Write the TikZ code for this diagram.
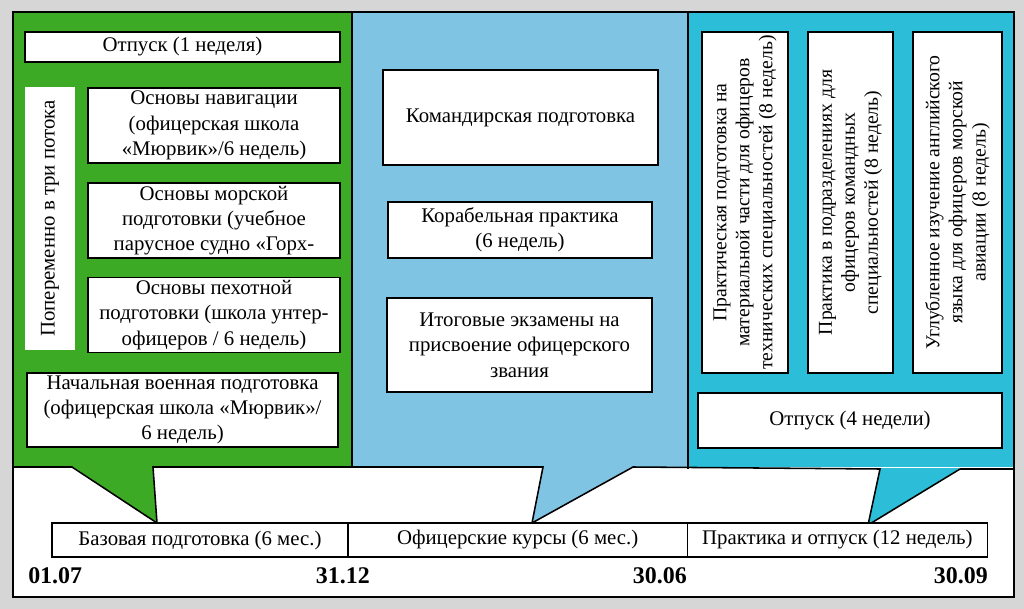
\documentclass[tikz,border=0pt]{standalone}
\usepackage{fontspec}
\setmainfont{Liberation Serif}
\usepackage{tikz}
\usetikzlibrary{positioning}
\definecolor{mygreen}{RGB}{60,170,36}
\definecolor{myblue}{RGB}{128,196,228}
\definecolor{mycyan}{RGB}{44,190,216}
\definecolor{mygray}{RGB}{214,214,214}
\newcommand{\boxfont}{\fontsize{14.8}{18}\selectfont}
\newcommand{\sidefont}{\fontsize{14}{16.4}\selectfont}
\newcommand{\datefont}{\fontsize{17}{20}\selectfont\bfseries}
\tikzset{
  box/.style={rectangle, draw=black, fill=white, line width=1.1pt,
    align=center, inner sep=2pt, font=\boxfont},
  sidebox/.style={box, rotate=90, font=\sidefont,
    minimum width=8.53cm},
  flowbox/.style={rectangle, fill=white, rotate=90, align=center,
    font=\boxfont, minimum width=6.58cm, minimum height=1.25cm},
  tbox/.style={box, minimum height=0.85cm, inner sep=1pt},
  datelbl/.style={font=\datefont, inner sep=0pt},
  edge/.style={line width=1.1pt, line join=miter}
}

\begin{document}
\begin{tikzpicture}[x=0.025cm, y=-0.025cm]
  \useasboundingbox (0,0) rectangle (1024,609);
  \fill[mygray] (0,0) rectangle (1024,609);

  % Panels
  \fill[mygreen] (13,12) rectangle (352,468);
  \fill[myblue]  (352,12) rectangle (688,468);
  \fill[mycyan]  (688,12) rectangle (1014,470);

  % Wedges
  \coordinate (tipa) at (157,523);
  \coordinate (tipb) at (532,523);
  \coordinate (tipc) at (868,525);
  \fill[white] (13,467) rectangle (1014,597);
  \fill[mygreen] (72,466) -- (tipa) -- (153,466) -- cycle;
  \fill[myblue]  (543,466) -- (tipb) -- (633,466) -- cycle;
  \fill[mycyan]  (880,468) -- (tipc) -- (960,468) -- cycle;
  \draw[edge] (13,467) -- (72,467) -- (tipa) -- (153,467) -- (543,467)
    -- (tipb) -- (633,467) -- (880,469) -- (tipc) -- (960,469)
    -- (1014,469);
  \draw[edge] (352,12) -- (352,467);
  \draw[edge] (688,12) -- (688,469);
  \draw[line width=1.6pt] (13,12) rectangle (1014,597);

  % Basic training
  \node[box, minimum width=7.88cm, minimum height=0.75cm] (otp1) at (182.5,47) {Отпуск (1 неделя)};
  \node[flowbox] (flow) at (50,218.5) {Попеременно в три потока};
  \node[box, minimum width=6.3cm, minimum height=1.88cm] (nav) at (214,125.5)
    {Основы навигации\\(офицерская школа\\«Мюрвик»/6 недель)};
  \node[box, minimum width=6.3cm, minimum height=1.88cm] (sea) at (214,220.5)
    {Основы морской\\подготовки (учебное\\парусное судно «Горх-};
  \node[box, minimum width=6.3cm, minimum height=1.88cm] (inf) at (214,315)
    {Основы пехотной\\подготовки (школа унтер-\\офицеров / 6 недель)};
  \node[box, minimum width=7.78cm, minimum height=1.85cm] (basic) at (182.5,410)
    {Начальная военная подготовка\\(офицерская школа «Мюрвик»/\\6 недель)};

  % Officer courses
  \node[box, minimum width=6.88cm, minimum height=2.38cm] (cmd) at (520.5,117.5)
    {Командирская подготовка};
  \node[box, minimum width=6.6cm, minimum height=1.4cm] (ship) at (520,230)
    {Корабельная практика\\(6 недель)};
  \node[box, minimum width=6.63cm, minimum height=2.35cm] (exam) at (519.5,345)
    {Итоговые экзамены на\\присвоение офицерского\\звания};

  % Practice and leave
  \node[sidebox, minimum height=2.15cm] (tech) at (745,202.5)
    {Практическая подготовка на\\материальной части для офицеров\\технических специальностей (8 недель)};
  \node[sidebox, minimum height=2.13cm] (unit) at (850.5,202.5)
    {Практика в подразделениях для\\офицеров командных\\специальностей (8 недель)};
  \node[sidebox, minimum height=2.23cm] (lang) at (957.5,202.5)
    {Углубленное изучение английского\\языка для офицеров морской\\авиации (8 недель)};
  \node[box, minimum width=7.6cm, minimum height=1.38cm] (otp4) at (850,420.5)
    {Отпуск (4 недели)};

  % Timeline
  \node[tbox, minimum width=7.4cm] (t1) at (200,540) {Базовая подготовка (6 мес.)};
  \node[tbox, minimum width=8.48cm, right=-1.1pt of t1] (t2) {Офицерские курсы (6 мес.)};
  \node[tbox, minimum width=7.5cm, right=-1.1pt of t2] (t3) {Практика и отпуск (12 недель)};

  \node[datelbl, anchor=west] (d1) at (28,576) {01.07};
  \node[datelbl, anchor=east] (d2) at (370,576) {31.12};
  \node[datelbl, anchor=east] (d3) at (687,576) {30.06};
  \node[datelbl, anchor=east] (d4) at (988,576) {30.09};
\end{tikzpicture}
\end{document}
